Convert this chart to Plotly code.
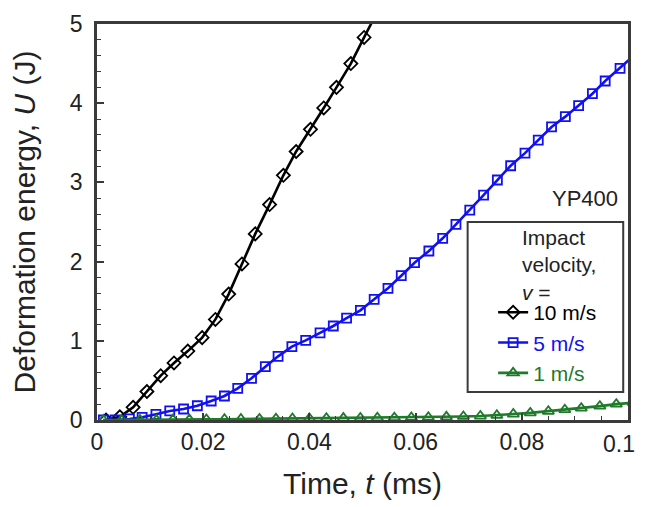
import plotly.graph_objects as go

# impact velocity 10 m/s
t_10 = [0.0017, 0.0043, 0.0068, 0.0094, 0.0120, 0.0145, 0.0171, 0.0198, 0.0223,
        0.0248, 0.0273, 0.0298, 0.0325, 0.0351, 0.0375, 0.0402, 0.0427, 0.0451,
        0.0478, 0.0503, 0.0529]
u_10 = [0.0, 0.04, 0.16, 0.36, 0.56, 0.72, 0.87, 1.04, 1.27, 1.59, 1.97, 2.35,
        2.72, 3.09, 3.39, 3.67, 3.94, 4.20, 4.50, 4.83, 5.17]

# impact velocity 5 m/s
t_5 = [0.0012, 0.0034, 0.0061, 0.0085, 0.0111, 0.0137, 0.0163, 0.0189, 0.0215,
       0.0240, 0.0265, 0.0291, 0.0317, 0.0341, 0.0367, 0.0393, 0.0420, 0.0445,
       0.0470, 0.0496, 0.0522, 0.0548, 0.0573, 0.0598, 0.0625, 0.0651, 0.0676,
       0.0702, 0.0728, 0.0754, 0.0779, 0.0806, 0.0831, 0.0856, 0.0882, 0.0907,
       0.0933, 0.0957, 0.0985, 0.1011]
u_5 = [0.0, 0.0, 0.013, 0.034, 0.072, 0.114, 0.139, 0.18, 0.24, 0.303, 0.40,
       0.526, 0.673, 0.804, 0.926, 1.006, 1.10, 1.187, 1.286, 1.385, 1.524,
       1.663, 1.822, 1.986, 2.134, 2.294, 2.47, 2.65, 2.84, 3.03, 3.21, 3.37,
       3.535, 3.70, 3.83, 3.97, 4.12, 4.28, 4.44, 4.60]

# impact velocity 1 m/s
t_1 = [0.0012, 0.0046, 0.0081, 0.0112, 0.0143, 0.0174, 0.0206, 0.0240, 0.0271,
       0.0306, 0.0337, 0.0368, 0.0400, 0.0432, 0.0464, 0.0496, 0.0528, 0.0560,
       0.0592, 0.0624, 0.0658, 0.0690, 0.0722, 0.0753, 0.0784, 0.0816, 0.0850,
       0.0881, 0.0912, 0.0947, 0.0978, 0.1010]
u_1 = [0.0, 0.0, 0.0, 0.0, 0.005, 0.005, 0.008, 0.01, 0.012, 0.014, 0.016,
       0.018, 0.02, 0.022, 0.024, 0.026, 0.028, 0.03, 0.032, 0.035, 0.04,
       0.045, 0.05, 0.06, 0.075, 0.09, 0.11, 0.13, 0.15, 0.175, 0.2, 0.22]

x_ticks = [0, 0.02, 0.04, 0.06, 0.08, 0.1]
x_labels = ["0", "0.02", "0.04", "0.06", "0.08", "0.1"]
y_ticks = [0, 1, 2, 3, 4, 5]

FONT = "Liberation Sans, Arial, sans-serif"
BLACK = "#000000"
BLUE = "#1010f0"
GREEN = "#1f7a2a"
FRAME = "#3a3a3a"
TEXT = "#222222"

fig = go.Figure()

series = [
    (t_10, u_10, BLACK, "diamond-open", 10, "10 m/s"),
    (t_5, u_5, BLUE, "square-open", 9, "5 m/s"),
    (t_1, u_1, GREEN, "triangle-up-open", 10, "1 m/s"),
]
for t, u, col, sym, size, name in series:
    fig.add_trace(go.Scatter(
        x=t, y=u, mode="lines+markers",
        line=dict(color=col, width=2.6),
        marker=dict(symbol=sym, size=size, color=col,
                    line=dict(color=col, width=1.8)),
        name=f'<span style="color:{col}">{name}</span>',
    ))

axis_common = dict(
    showline=True, linecolor=FRAME, linewidth=2.5, mirror=True,
    ticks="inside", ticklen=7, tickwidth=1.5, tickcolor=FRAME,
    showgrid=False, zeroline=False, automargin=False,
    tickfont=dict(family=FONT, size=23, color=TEXT),
)

# the last x label sits at the page edge, so it is drawn right-aligned below
fig.update_xaxes(
    range=[0, 0.1], tickvals=x_ticks, ticktext=x_labels[:-1] + [""],
    minor=dict(dtick=0.005, ticks="inside", ticklen=4, tickcolor=FRAME, tickwidth=1.2),
    title=dict(text="Time, <i>t</i> (ms)", font=dict(family=FONT, size=30, color=TEXT),
               standoff=19),
    **axis_common,
)
fig.add_annotation(xref="x", yref="paper", x=x_ticks[-1], y=0,
                   xanchor="right", yanchor="top", xshift=9, yshift=-9,
                   showarrow=False, text=x_labels[-1],
                   font=dict(family=FONT, size=23, color=TEXT))

fig.update_yaxes(
    range=[0, 5], tickvals=y_ticks, ticklabelstandoff=7,
    minor=dict(dtick=0.2, ticks="inside", ticklen=4, tickcolor=FRAME, tickwidth=1.2),
    title=dict(text="Deformation energy, <i>U</i> (J)",
               font=dict(family=FONT, size=30, color=TEXT), standoff=29),
    **axis_common,
)

# legend frame and heading
fig.add_shape(type="rect", xref="paper", yref="paper",
              x0=0.698, x1=0.991, y0=0.071, y1=0.5,
              line=dict(color=FRAME, width=2), fillcolor="white", layer="below")
fig.add_annotation(xref="paper", yref="paper", x=0.796, y=0.495,
                   xanchor="left", yanchor="top", align="left", showarrow=False,
                   text="Impact<br>velocity,<br><i>v</i> =",
                   font=dict(family=FONT, size=21, color=TEXT))
fig.add_annotation(xref="paper", yref="paper", x=0.985, y=0.56,
                   xanchor="right", yanchor="middle", showarrow=False,
                   text="YP400", font=dict(family=FONT, size=22, color=TEXT))

# the page adds an 8 px body margin, so the figure is 8 px smaller each way
fig.update_layout(
    width=638, height=499,
    margin=dict(l=89, r=18, t=16, b=87),
    plot_bgcolor="white", paper_bgcolor="white",
    font=dict(family=FONT, size=21, color=TEXT),
    legend=dict(x=0.746, y=0.323, xanchor="left", yanchor="top",
                bgcolor="rgba(0,0,0,0)", borderwidth=0,
                tracegroupgap=0, font=dict(family=FONT, size=21)),
)

fig.write_html("out.html")
